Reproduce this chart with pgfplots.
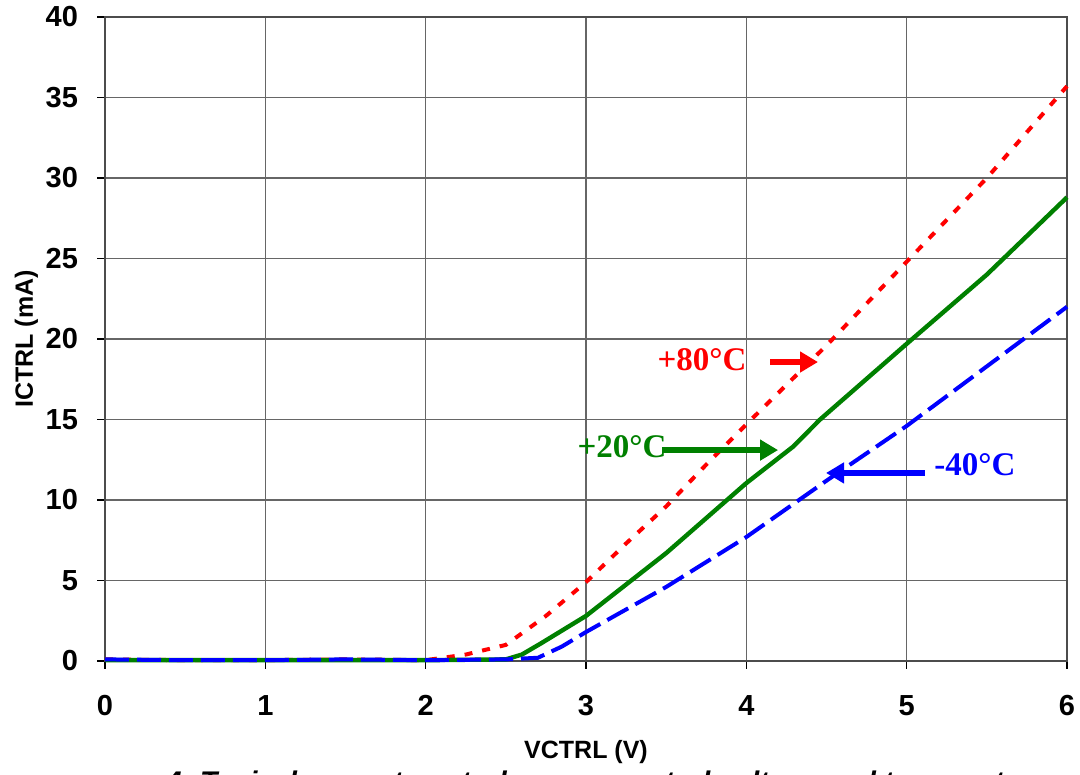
\documentclass[border=0pt]{standalone}
\usepackage{pgfplots}
\pgfplotsset{compat=1.18}
\usepackage{fontspec}
\setmainfont{Liberation Sans}
\newfontfamily\serifb{Liberation Serif}
\usetikzlibrary{arrows.meta}
\definecolor{cred}{RGB}{255,0,0}
\definecolor{cgreen}{RGB}{0,128,0}
\definecolor{cblue}{RGB}{0,0,255}
\begin{document}
\begin{tikzpicture}
\useasboundingbox (0,0) rectangle (540pt,387.5pt);
\begin{axis}[
  scale only axis, width=481pt, height=322pt,
  at={(52.5pt,57pt)}, anchor=origin,
  xmin=0, xmax=6, ymin=0, ymax=40,
  xtick={0,1,2,3,4,5,6}, ytick={0,5,...,40},
  grid=major, grid style={black!60, line width=0.6pt},
  axis line style={black!70, line width=0.8pt},
  tick align=outside, xtick pos=bottom, ytick pos=left,
  major tick length=4pt, tick style={black, line width=0.8pt},
  /pgf/number format/assume math mode=true,
  ticklabel style={font=\fontsize{14.5}{16}\selectfont\bfseries},
  xticklabel style={yshift=-9.5pt},
  yticklabel style={xshift=-6pt},
  xlabel={VCTRL (V)}, ylabel={ICTRL (mA)},
  label style={font=\fontsize{12.5}{14}\selectfont\bfseries},
  xlabel style={yshift=-5.5pt},
  ylabel style={yshift=-3pt},
  clip=false,
]
\addplot[cred, line width=2pt, dash pattern=on 4pt off 5pt] coordinates {
(0,0.1) (0.5,0.05) (1,0.05) (1.5,0.1) (2,0.05) (2.25,0.4) (2.5,1.0) (2.75,2.8) (3,4.9) (3.25,7.3) (3.5,9.6) (3.75,12.2) (4,14.7) (4.5,19.6) (5,24.8) (5.5,30.0) (6,35.7)};
\addplot[cgreen, line width=2.2pt] coordinates {
(0,0.05) (0.5,0.05) (1,0.05) (1.5,0.05) (2,0.05) (2.5,0.1) (2.6,0.4) (2.72,1.1) (3,2.8) (3.5,6.7) (4,11.05) (4.29,13.3) (4.46,15.0) (5,19.7) (5.5,24.0) (6,28.8)};
\addplot[cblue, line width=2pt, dash pattern=on 12pt off 4pt] coordinates {
(0,0.1) (0.5,0.05) (1,0.05) (1.5,0.1) (2,0.05) (2.5,0.1) (2.7,0.2) (2.85,0.9) (3,1.8) (3.5,4.6) (4,7.7) (4.3,9.8) (4.5,11.2) (5,14.6) (5.5,18.3) (6,22.0)};
\draw[cred, line width=3pt, -{Triangle[length=9pt,width=10pt]}] (axis cs:4.148,18.57) -- (axis cs:4.447,18.57);
\draw[cgreen, line width=3pt, -{Triangle[length=9pt,width=10pt]}] (axis cs:3.474,13.1) -- (axis cs:4.198,13.1);
\draw[cblue, line width=3pt, -{Triangle[length=9pt,width=10pt]}] (axis cs:5.114,11.68) -- (axis cs:4.497,11.68);
\node[cred, font=\serifb\fontsize{16.5}{18}\selectfont\bfseries] at (axis cs:3.724,18.7) {+80°C};
\node[cgreen, font=\serifb\fontsize{16.5}{18}\selectfont\bfseries] at (axis cs:3.225,13.3) {+20°C};
\node[cblue, font=\serifb\fontsize{16.5}{18}\selectfont\bfseries] at (axis cs:5.426,12.2) {-40°C};
\end{axis}
\node[anchor=north, font=\fontsize{14.2}{16}\selectfont\bfseries\itshape, inner sep=0pt] at (303.5pt,2pt) {4. Typical current control versus control voltage and temperature};
\end{tikzpicture}
\end{document}
